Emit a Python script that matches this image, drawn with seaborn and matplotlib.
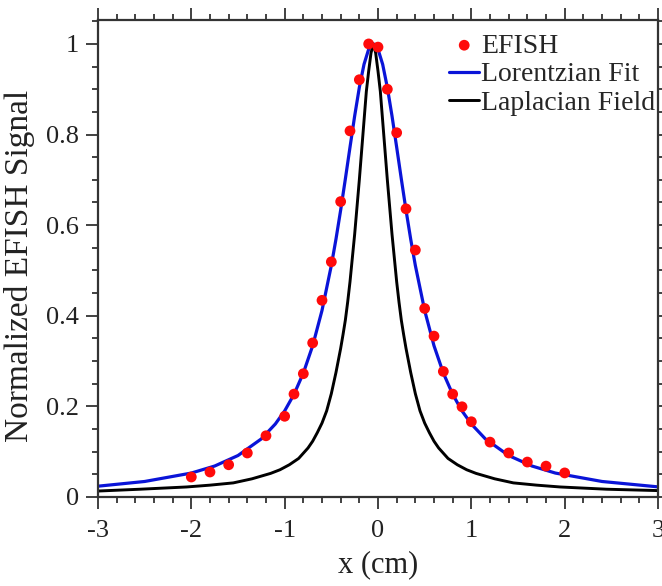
import numpy as np
import pandas as pd
import matplotlib
matplotlib.use("Agg")
import matplotlib.pyplot as plt
from matplotlib.ticker import MultipleLocator, FuncFormatter
import seaborn as sns

efish_x = [-2.0, -1.8, -1.6, -1.4, -1.2, -1.0, -0.9, -0.8, -0.7, -0.6, -0.5, -0.4,
           -0.3, -0.2, -0.1, 0.0, 0.1, 0.2, 0.3, 0.4, 0.5, 0.6, 0.7, 0.8, 0.9,
           1.0, 1.2, 1.4, 1.6, 1.8, 2.0]
efish_y = [0.044, 0.055, 0.071, 0.097, 0.135, 0.178, 0.227, 0.272, 0.340, 0.434,
           0.519, 0.652, 0.808, 0.921, 1.000, 0.993, 0.900, 0.804, 0.636, 0.545,
           0.416, 0.355, 0.277, 0.227, 0.199, 0.166, 0.121, 0.097, 0.077, 0.068,
           0.053]

# Lorentzian fit curve (blue)
fit_x = [-3.0, -2.5, -2.0, -1.75, -1.5, -1.25, -1.1, -1.0, -0.9, -0.8, -0.7, -0.6,
         -0.5, -0.45, -0.4, -0.35, -0.3, -0.25, -0.2, -0.15, -0.1, -0.075, -0.05,
         -0.025, 0.0, 0.05, 0.1, 0.15, 0.2, 0.25, 0.3, 0.35, 0.4, 0.5, 0.6, 0.7,
         0.8, 0.9, 1.0, 1.15, 1.4, 1.65, 1.9, 2.4, 3.0]
fit_y = [0.0237, 0.0341, 0.0527, 0.0682, 0.0914, 0.1281, 0.1610, 0.1899, 0.2265,
         0.2734, 0.3337, 0.4116, 0.5110, 0.5694, 0.6333, 0.7016, 0.7720, 0.8410,
         0.9039, 0.9549, 0.9883, 0.9971, 1.0, 0.9971, 0.9883, 0.9549, 0.9039,
         0.8410, 0.7720, 0.7016, 0.6333, 0.5694, 0.5110, 0.4116, 0.3337, 0.2734,
         0.2265, 0.1899, 0.1610, 0.1281, 0.0914, 0.0682, 0.0527, 0.0341, 0.0222]

# Laplacian field curve (black)
lap_x = [-3.0, -2.55, -2.05, -1.8, -1.55, -1.35, -1.15, -1.05, -0.95, -0.85,
         -0.75, -0.7, -0.65, -0.6, -0.55, -0.5, -0.45, -0.4, -0.375, -0.35,
         -0.325, -0.3, -0.25, -0.2, -0.15, -0.125, -0.1, -0.075, -0.05, -0.025,
         0.0, 0.025, 0.05, 0.1, 0.15, 0.2, 0.225, 0.25, 0.275, 0.3, 0.35, 0.4,
         0.45, 0.5, 0.55, 0.6, 0.65, 0.75, 0.85, 0.95, 1.05, 1.25, 1.45, 1.7,
         1.95, 2.45, 3.0]
lap_y = [0.013, 0.017, 0.022, 0.026, 0.031, 0.040, 0.052, 0.060, 0.071, 0.085,
         0.108, 0.123, 0.142, 0.163, 0.190, 0.228, 0.275, 0.328, 0.358, 0.390,
         0.430, 0.475, 0.580, 0.700, 0.830, 0.895, 0.940, 0.980, 1.0, 0.980,
         0.940, 0.895, 0.830, 0.700, 0.580, 0.475, 0.430, 0.390, 0.358, 0.328,
         0.275, 0.228, 0.190, 0.163, 0.142, 0.123, 0.108, 0.085, 0.071, 0.060,
         0.052, 0.040, 0.031, 0.026, 0.022, 0.017, 0.014]

sns.set_theme(style="ticks")
plt.rcParams["font.family"] = ["Liberation Serif", "DejaVu Serif"]
plt.rcParams["axes.unicode_minus"] = False

fig = plt.figure(figsize=(6.62, 5.86), dpi=100)
ax = fig.add_axes([0.148, 0.152, 0.846, 0.814])

sns.lineplot(x=fit_x, y=fit_y, ax=ax, color="#0a14d8", lw=2.3,
             estimator=None, sort=False, label="Lorentzian Fit", zorder=2)
sns.lineplot(x=lap_x, y=lap_y, ax=ax, color="black", lw=2.1,
             estimator=None, sort=False, label="Laplacian Field", zorder=2)
sns.scatterplot(x=efish_x, y=efish_y, ax=ax, color="#ff0a0a", s=60,
                edgecolor="none", label="EFISH", zorder=3)

ax.set_xlim(-3, 3)
ax.set_ylim(0, 1.053)
ax.xaxis.set_major_locator(MultipleLocator(1))
ax.xaxis.set_minor_locator(MultipleLocator(0.2))
ax.yaxis.set_major_locator(MultipleLocator(0.2))
ax.yaxis.set_minor_locator(MultipleLocator(0.05))
ax.yaxis.set_major_formatter(FuncFormatter(lambda v, p: f"{v:g}"))
ax.xaxis.set_major_formatter(FuncFormatter(lambda v, p: f"{v:g}"))

ax.tick_params(which="both", direction="out", top=True, right=True,
               color="#333333", width=1.3, labelsize=19, labelcolor="#222222")
ax.tick_params(which="major", length=8.5)
ax.tick_params(which="minor", length=4.5)
ax.tick_params(axis="x", which="major", pad=8)
ax.tick_params(axis="y", which="major", pad=5)
for s in ax.spines.values():
    s.set_visible(True)
    s.set_linewidth(1.6)
    s.set_color("#333333")

ax.set_xlabel("x (cm)", fontsize=22, color="#222222", labelpad=6)
ax.set_ylabel("Normalized EFISH Signal", fontsize=24, color="#222222")
ax.yaxis.set_label_coords(-0.112, 0.484)

h, l = ax.get_legend_handles_labels()
order = [l.index("EFISH"), l.index("Lorentzian Fit"), l.index("Laplacian Field")]
ax.legend([h[i] for i in order], [l[i] for i in order], loc="upper right",
          bbox_to_anchor=(1.007, 0.987),
          frameon=False, fontsize=20, handlelength=1.1, handletextpad=0.05,
          labelspacing=0.12, borderaxespad=0.05, markerscale=1.0,
          borderpad=0.2)

fig.savefig("out.png", dpi=100)
